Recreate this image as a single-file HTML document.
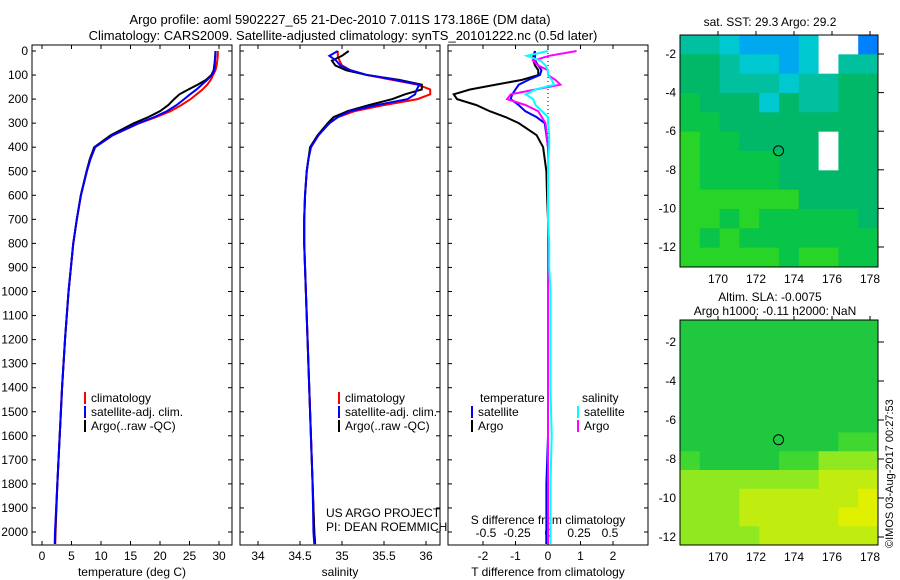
<!DOCTYPE html>
<html><head><meta charset="utf-8"><style>
body{margin:0;background:#fff}
svg{display:block;font-family:"Liberation Sans",sans-serif}
text{font-size:12px;fill:#000}
</style></head><body>
<svg id="c" width="900" height="580" viewBox="0 0 900 580">
<text x="340" y="24" text-anchor="middle" style="font-size:13px">Argo profile: aoml 5902227_65 21-Dec-2010 7.011S 173.186E (DM data)</text>
<text x="343" y="40" text-anchor="middle" style="font-size:13px">Climatology: CARS2009. Satellite-adjusted climatology: synTS_20101222.nc (0.5d later)</text>
<text transform="translate(893,548) rotate(-90)" style="font-size:11px">©IMOS 03-Aug-2017 00:27:53</text>
</svg>
<script>
const depths=[0,20,40,60,80,100,120,140,160,180,200,225,250,275,300,350,400,450,500,600,700,800,900,1000,1200,1400,1600,1800,2000,2050];
const climT=[29.8,29.8,29.7,29.6,29.4,29.0,28.6,28.0,27.2,26.2,25.2,23.6,21.8,19.3,16.5,12.0,9.0,8.2,7.6,6.6,5.9,5.3,4.9,4.5,3.9,3.4,3.0,2.6,2.3,2.25];
const satT=[29.4,29.4,29.3,29.3,29.2,28.8,28.0,27.1,26.2,25.1,24.1,22.8,21.2,19.0,16.4,12.0,9.0,8.2,7.6,6.6,5.9,5.3,4.9,4.5,3.9,3.4,3.0,2.6,2.2,2.15];
const argoT=[29.4,29.35,29.3,29.2,29.1,28.7,27.8,26.4,24.8,23.3,22.4,21.4,20.0,18.0,15.6,11.65,8.85,8.1,7.55,6.57,5.9,5.3,4.9,4.5,3.9,3.4,3.0,2.6,2.25,2.2];
const climS=[34.95,34.95,34.97,35.0,35.1,35.3,35.6,35.9,36.05,36.05,35.9,35.5,35.15,34.95,34.85,34.72,34.63,34.6,34.58,34.56,34.55,34.55,34.56,34.57,34.59,34.61,34.63,34.65,34.67,34.68];
const satS=[34.95,34.85,34.93,34.98,35.1,35.3,35.64,35.92,35.89,35.87,35.78,35.41,35.1,34.95,34.85,34.72,34.63,34.6,34.58,34.56,34.55,34.55,34.56,34.57,34.59,34.61,34.63,34.65,34.66,34.67];
const argoS=[35.08,35.0,34.88,34.92,35.05,35.3,35.68,35.95,35.95,35.75,35.6,35.32,35.07,34.9,34.83,34.71,34.62,34.6,34.58,34.56,34.55,34.55,34.56,34.57,34.59,34.61,34.63,34.65,34.67,34.68];
const dTsat=[-0.4,-0.4,-0.4,-0.3,-0.2,-0.25,-0.6,-0.9,-1.0,-1.1,-1.15,-0.9,-0.7,-0.35,-0.1,-0.05,0,0,0,0,0,0,0,0,0,0,0,-0.05,-0.05,-0.05];
const dTargo=[-0.4,-0.45,-0.45,-0.4,-0.3,-0.3,-0.8,-1.6,-2.4,-2.9,-2.8,-2.2,-1.8,-1.3,-0.9,-0.35,-0.15,-0.1,-0.05,-0.03,0,0,0,0,0,0,0,0,-0.05,-0.05];
const dSsat=[0,-0.17,-0.06,-0.02,0,0,0.03,0.05,-0.1,-0.18,-0.12,-0.1,-0.05,0,0,0.01,0.01,0,0,0,0,0.01,0.01,0.02,0.02,0.02,0.03,0.02,0.02,0.02];
const dSargo=[0.23,0.01,-0.12,-0.08,0,0,0.06,0.1,-0.1,-0.3,-0.33,-0.18,-0.08,-0.05,-0.02,-0.01,0,0,0,0,0,0,0,0,0,0,0,0,0,0];
const depthTicks=[0,100,200,300,400,500,600,700,800,900,1000,1100,1200,1300,1400,1500,1600,1700,1800,1900,2000];
const tTicks=[0,5,10,15,20,25,30];
const sTicks=[34,34.5,35,35.5,36];
const dTTicks=[-2,-1,0,1,2];
const dSTicks=[-0.5,-0.25,0,0.25,0.5];
const sstGrid=["3321112WW0","4432212W33","4433323344","5444243344","5544444444","6554444W44","6555544W44","6555544444","6666664444","6656555554","6565555555","6666656655"];
const slaGrid=["5555555555","5555555555","5555555555","5555555555","5555555555","5555555555","5555555566","6555566777","7777777888","7778888889","7778888899","7777888888"];
const latTicks=[-2,-4,-6,-8,-10,-12];
const lonTicks=[170,172,174,176,178];

const NS='http://www.w3.org/2000/svg';
const svg=document.getElementById('c');
function el(tag,attrs,parent){const e=document.createElementNS(NS,tag);for(const k in attrs)e.setAttribute(k,attrs[k]);(parent||svg).appendChild(e);return e;}
const yD=d=>51+d*0.2405;
const xT=t=>42+t*5.9;
const xS=s=>258+(s-34)*84;
const xDT=v=>548+v*32.5;
const xDS=v=>548+v*124;
const TOP=45,BOT=545;

function panel(x0,name){const r=el('rect',{x:x0,y:TOP,width:200,height:BOT-TOP,fill:'none',stroke:'#000'});

}
panel(32,'temperature-panel');panel(240,'salinity-panel');panel(448,'difference-panel');

depthTicks.forEach(d=>{const t=el('text',{x:28,y:yD(d)+4,'text-anchor':'end'});t.textContent=d;


[32,240,448].forEach(x0=>{el('line',{x1:x0,x2:x0+4,y1:yD(d),y2:yD(d),stroke:'#000'});el('line',{x1:x0+200,x2:x0+196,y1:yD(d),y2:yD(d),stroke:'#000'});});});

function xticks(ticks,fx,y,lbl){ticks.forEach(v=>{const x=fx(v);el('line',{x1:x,x2:x,y1:BOT,y2:BOT-4,stroke:'#000'});el('line',{x1:x,x2:x,y1:TOP,y2:TOP+4,stroke:'#000'});
const t=el('text',{x:x,y:y,'text-anchor':'middle'});t.textContent=v;

});}
xticks(tTicks,xT,560,'temperature-tick-label');
xticks(sTicks,xS,560,'salinity-tick-label');
xticks(dTTicks,xDT,560,'tdiff-tick-label');
dSTicks.forEach(v=>{const t=el('text',{x:xDS(v),y:537,'text-anchor':'middle'});t.textContent=v;

});

function label(x,y,s,name,anchor){const t=el('text',{x:x,y:y,'text-anchor':anchor||'middle'});t.textContent=s;

}
label(132,576,'temperature (deg C)','x-axis-title-temperature');
label(340,576,'salinity','x-axis-title-salinity');
label(548,576,'T difference from climatology','x-axis-title-tdiff');
label(548,524,'S difference from climatology','sdiff-axis-title');
label(326,517,'US ARGO PROJECT','project-label','start');
label(326,531,'PI: DEAN ROEMMICH','pi-label','start');

el('line',{x1:548,x2:548,y1:TOP,y2:BOT,stroke:'#000','stroke-dasharray':'1,3'});

function line(xs,fx,color,name){const p=el('polyline',{points:xs.map((v,i)=>fx(v)+','+yD(depths[i])).join(' '),fill:'none',stroke:color,'stroke-width':2});

}
line(climT,xT,'#f00','temp-climatology-line');line(argoT,xT,'#000','temp-argo-line');line(satT,xT,'#00f','temp-satellite-line');
line(climS,xS,'#f00','sal-climatology-line');line(argoS,xS,'#000','sal-argo-line');line(satS,xS,'#00f','sal-satellite-line');
line(dTargo,xDT,'#000','tdiff-argo-line');line(dTsat,xDT,'#00f','tdiff-satellite-line');
line(dSargo,xDS,'#f0f','sdiff-argo-line');line(dSsat,xDS,'#0ff','sdiff-satellite-line');

function legend(x,y,items,name){items.forEach((it,i)=>{el('rect',{x:x,y:y+i*14-10,width:2,height:12,fill:it[1]});
const t=el('text',{x:x+7,y:y+i*14});t.textContent=it[0];

});}
const lg=[['climatology','#f00'],['satellite-adj. clim.','#00f'],['Argo(..raw -QC)','#000']];
legend(84,402,lg,'temp-legend');legend(338,402,lg,'sal-legend');
label(480,402,'temperature','tdiff-legend-title','start');label(582,402,'salinity','sdiff-legend-title','start');
legend(471,416,[['satellite','#00f'],['Argo','#000']],'tdiff-legend');
legend(577,416,[['satellite','#0ff'],['Argo','#f0f']],'sdiff-legend');

const pal={'0':'#0080ff','1':'#00a8f0','2':'#00c8d0','3':'#00c0a0','4':'#00b868','5':'#08c448','6':'#28d428','7':'#50e000','8':'#b0f000','9':'#e8f000','W':'#fff'};
const pal2={'5':'#20c840','6':'#40d830','7':'#90e820','8':'#c0ec10','9':'#e0f000'};
function map(grid,p,y0,y1,latY,name){const cols=grid[0].length,rows=grid.length,cw=198/cols,ch=(y1-y0)/rows;
grid.forEach((row,r)=>[...row].forEach((c,k)=>{const e=el('rect',{x:680+k*cw,y:y0+r*ch,width:cw+0.5,height:ch+0.5,fill:p[c]||pal[c]});

}));
const b=el('rect',{x:680,y:y0,width:198,height:y1-y0,fill:'none',stroke:'#000'});


latTicks.forEach(v=>{const y=latY(v);el('line',{x1:878,x2:884,y1:y,y2:y,stroke:'#000'});const t=el('text',{x:676,y:y+4,'text-anchor':'end'});t.textContent=v;

});
lonTicks.forEach(v=>{const x=718+(v-170)*19;el('line',{x1:x,x2:x,y1:y0,y2:y0-4,stroke:'#000'});const t=el('text',{x:x,y:y1+16,'text-anchor':'middle'});t.textContent=v;

});
const cx=718+(173.186-170)*19,cy=latY(-7.011);const c=el('circle',{cx:cx,cy:cy,r:5,fill:'none',stroke:'#000'});

}
map(sstGrid,{},35,267,v=>54+(-2-v)*19.3,'sst-map');
map(slaGrid,pal2,320,545,v=>342+(-2-v)*19.5,'sla-map');
label(770,26,'sat. SST: 29.3 Argo: 29.2','sst-map-title');
label(770,301,'Altim. SLA: -0.0075','sla-map-title');
label(775,315,'Argo h1000: -0.11 h2000: NaN','argo-height-title');
</script>
</body></html>
